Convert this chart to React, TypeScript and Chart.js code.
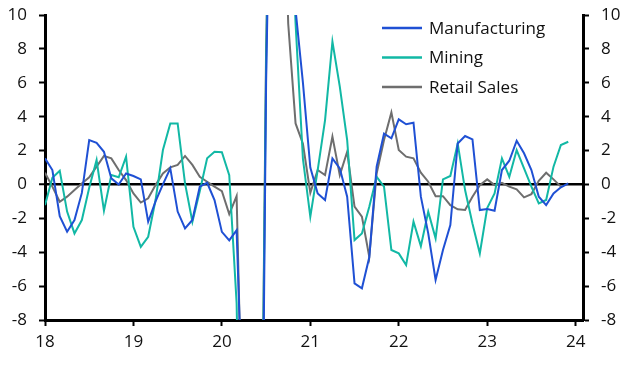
import React, { useEffect, useRef } from 'react';
import { Chart, registerables } from 'chart.js';

Chart.register(...registerables);

// Monthly data, Jan 2018 .. Dec 2023
const startYear = 2018;
const monthsPerYear = 12;
const xTickYears = [2018, 2019, 2020, 2021, 2022, 2023, 2024];
const yTickValues = [-8, -6, -4, -2, 0, 2, 4, 6, 8, 10];

const manufacturing: number[] = [
  1.54, 0.85, -1.87, -2.79, -2.1, -0.5, 2.62, 2.46, 1.93, 0.36, 0.0, 0.65,
  0.5, 0.3, -2.2, -1.0, 0.0, 0.95, -1.6, -2.6, -2.1, -0.13, 0.1, -0.92,
  -2.8, -3.3, -2.7, -16, -50, -40, 6, 30, 30, 20, 10.3, 6.0,
  1.0, -0.53, -0.92, 1.54, 0.95, -0.72, -5.84, -6.13, -4.3, 1.05, 3.0, 2.72,
  3.84, 3.55, 3.64, -0.72, -2.89, -5.64, -3.87, -2.4, 2.42, 2.86, 2.66, -1.51,
  -1.45, -1.55, 0.85, 1.4, 2.58, 1.84, 0.85, -0.72, -1.22, -0.53, -0.17, 0.06,
];

const mining: number[] = [
  -1.22, 0.4, 0.81, -1.6, -2.89, -2.1, -0.2, 1.44, -1.55, 0.55, 0.42, 1.64,
  -2.5, -3.68, -3.09, -0.92, 2.03, 3.6, 3.6, 0.06, -2.2, -0.4, 1.54, 1.93,
  1.9, 0.55, -7.0, -30, -50, -35, 7, 35, 30, 20, 9.5, 1.5,
  -1.9, 0.85, 3.8, 8.43, 5.77, 2.62, -3.28, -2.89, -1.31, 0.45, -0.13, -3.87,
  -4.07, -4.76, -2.2, -3.64, -1.61, -3.18, 0.3, 0.5, 2.42, -0.33, -2.3, -4.07,
  -1.4, -0.53, 1.54, 0.45, 2.03, 0.95, -0.13, -1.12, -0.92, 1.05, 2.33, 2.52,
];

const retailSales: (number | null)[] = [
  0.69, -0.13, -1.02, -0.72, -0.33, 0.06, 0.42, 1.05, 1.68, 1.54, 0.85, 0.26,
  -0.53, -1.07, -0.82, -0.04, 0.65, 1.01, 1.15, 1.68, 1.15, 0.45, 0.16, -0.13,
  -0.4, -1.75, -0.69, -19, -50, -35, 8, 30, 25, 9.5, 3.6, 2.4,
  -0.5, 0.85, 0.55, 2.82, 0.55, 1.93, -1.31, -1.9, -4.27, 0.65, 2.62, 4.25,
  2.03, 1.64, 1.54, 0.69, 0.16, -0.69, -0.69, -1.22, -1.47, -1.51, -0.72, -0.04,
  0.3, -0.04, 0.1, -0.13, -0.29, -0.76, -0.57, 0.22, 0.69, 0.3, -0.13, null,
];

const seriesNames = ['Manufacturing', 'Mining', 'Retail Sales'];
const seriesColors = ['#1f50d4', '#12b8a5', '#6e6e6e'];

const FONT = '"Open Sans", "Noto Sans", sans-serif';
const TEXT_COLOR = '#111111';

function toPoints(values: (number | null)[]) {
  return values.map((v, i) => ({ x: startYear + i / monthsPerYear, y: v }));
}

const lineLegend = {
  id: 'lineLegend',
  afterDraw(chart: any) {
    const ctx = chart.ctx;
    const area = chart.chartArea;
    ctx.save();
    chart.data.datasets.forEach((ds: any, i: number) => {
      const y = area.top + 13 + i * 29.5;
      const x0 = area.right - 201;
      ctx.strokeStyle = ds.borderColor;
      ctx.lineWidth = 2.5;
      ctx.beginPath();
      ctx.moveTo(x0, y);
      ctx.lineTo(x0 + 40, y);
      ctx.stroke();
      ctx.fillStyle = TEXT_COLOR;
      ctx.font = `17px ${FONT}`;
      ctx.textAlign = 'left';
      ctx.textBaseline = 'middle';
      ctx.fillText(ds.label, x0 + 47, y + 1);
    });
    ctx.restore();
  },
};

export default function App() {
  const canvasRef = useRef<HTMLCanvasElement | null>(null);

  useEffect(() => {
    if (!canvasRef.current) return;
    const seriesValues = [manufacturing, mining, retailSales];
    const yTicksCb = (s: any) => {
      s.ticks = yTickValues.map((v) => ({ value: v }));
    };
    const fitY = (w: number) => (s: any) => {
      s.width = w;
      s.paddingTop = 0;
      s.paddingBottom = 0;
    };
    const tickFont = { family: FONT, size: 17 };
    const chart = new Chart(canvasRef.current, {
      type: 'line',
      data: {
        datasets: seriesNames.map((name, i) => ({
          label: name,
          data: toPoints(seriesValues[i]) as any,
          borderColor: seriesColors[i],
          backgroundColor: seriesColors[i],
          borderWidth: 2,
          pointRadius: 0,
          tension: 0,
          fill: false,
          yAxisID: 'y',
        })),
      },
      options: {
        responsive: false,
        animation: false,
        devicePixelRatio: 1,
        layout: { padding: { top: 15, left: 0, right: 0, bottom: 0 } },
        plugins: { legend: { display: false }, tooltip: { enabled: false } },
        scales: {
          x: {
            type: 'linear',
            min: 2018,
            max: 2024 + 1 / 12,
            afterBuildTicks: (s: any) => {
              s.ticks = xTickYears.map((v) => ({ value: v }));
            },
            afterFit: (s: any) => {
              s.height = 45;
              s.paddingLeft = 0;
              s.paddingRight = 0;
            },
            ticks: {
              callback: (v: any) => String(Math.round(Number(v)) % 100),
              font: tickFont,
              color: TEXT_COLOR,
              padding: 6,
              maxRotation: 0,
              autoSkip: false,
            },
            grid: {
              drawOnChartArea: false,
              tickLength: 6,
              tickColor: '#000',
              tickWidth: 2,
            },
            border: { color: '#000', width: 3 },
          },
          y: {
            position: 'left',
            min: -8,
            max: 10,
            afterBuildTicks: yTicksCb,
            afterFit: fitY(45),
            ticks: { font: tickFont, color: TEXT_COLOR, padding: 12 },
            grid: {
              color: (c: any) => (c.tick && c.tick.value === 0 ? '#000' : 'rgba(0,0,0,0)'),
              lineWidth: (c: any) => (c.tick && c.tick.value === 0 ? 2.5 : 1),
              tickColor: '#000',
              tickLength: 6,
              tickWidth: 2,
            },
            border: { color: '#000', width: 3 },
          },
          y2: {
            position: 'right',
            min: -8,
            max: 10,
            afterBuildTicks: yTicksCb,
            afterFit: fitY(52),
            ticks: { font: tickFont, color: TEXT_COLOR, padding: 12 },
            grid: {
              drawOnChartArea: false,
              tickColor: '#000',
              tickLength: 6,
              tickWidth: 2,
            },
            border: { color: '#000', width: 3 },
          },
        },
      } as any,
      plugins: [lineLegend],
    });
    return () => chart.destroy();
  }, []);

  return (
    <div style={{ position: 'absolute', left: 0, top: 0, width: 635, height: 365, background: '#fff' }}>
      <canvas ref={canvasRef} width={635} height={365} style={{ display: 'block' }} />
    </div>
  );
}
